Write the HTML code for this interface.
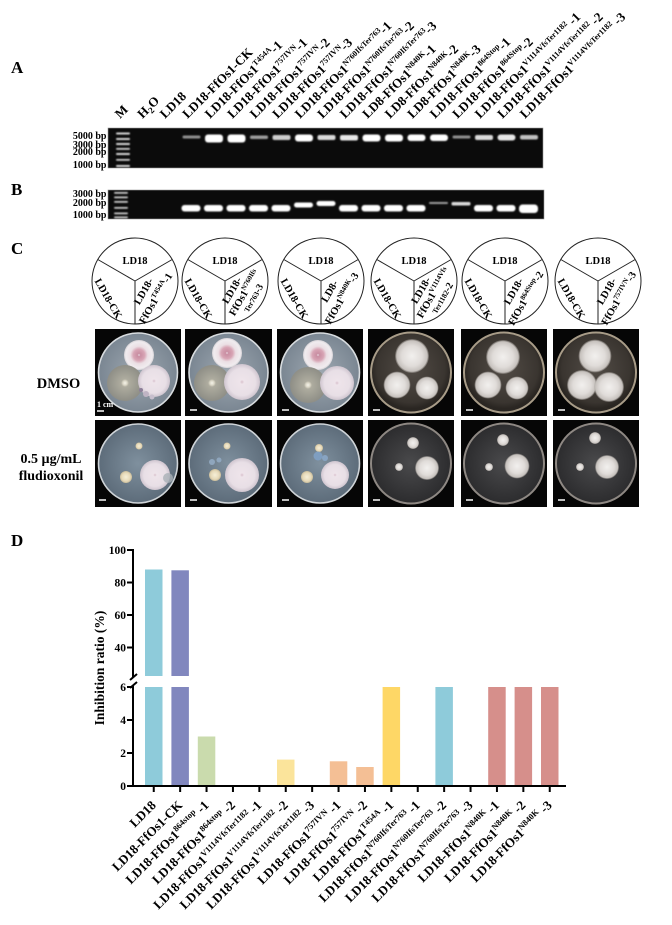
<!DOCTYPE html>
<html><head><meta charset="utf-8">
<style>
html,body{margin:0;padding:0;background:#fff;}
svg{display:block;}
text{font-family:"Liberation Serif","Times New Roman",serif;font-weight:bold;fill:#000;}
</style></head>
<body>
<svg width="672" height="925" viewBox="0 0 672 925" xmlns="http://www.w3.org/2000/svg">
<defs>
<filter id="bl" x="-30%" y="-100%" width="160%" height="300%"><feGaussianBlur stdDeviation="0.7"/></filter>
<radialGradient id="agarA" cx="50%" cy="50%" r="50%"><stop offset="0" stop-color="#9ea8b1"/><stop offset="1" stop-color="#7a8692"/></radialGradient>
<radialGradient id="agarB" cx="50%" cy="45%" r="50%"><stop offset="0" stop-color="#524c46"/><stop offset="0.85" stop-color="#3a3530"/><stop offset="1" stop-color="#2a2622"/></radialGradient>
<radialGradient id="agarC" cx="50%" cy="50%" r="50%"><stop offset="0" stop-color="#7f909e"/><stop offset="1" stop-color="#5d6c7a"/></radialGradient>
<radialGradient id="agarD" cx="50%" cy="50%" r="50%"><stop offset="0" stop-color="#4a4a4c"/><stop offset="1" stop-color="#2c2c2e"/></radialGradient>
<radialGradient id="pink"><stop offset="0" stop-color="#eadbe1"/><stop offset="0.1" stop-color="#c98ea2"/><stop offset="0.38" stop-color="#d8a5b5"/><stop offset="0.58" stop-color="#ebdfe4"/><stop offset="0.88" stop-color="#f0ecef"/><stop offset="1" stop-color="#d6d2d6"/></radialGradient>
<radialGradient id="gray"><stop offset="0" stop-color="#f5f3ea"/><stop offset="0.12" stop-color="#dcd8c8"/><stop offset="0.22" stop-color="#aeac9f"/><stop offset="1" stop-color="#8e8e86"/></radialGradient>
<radialGradient id="wpink"><stop offset="0" stop-color="#d8c0cc"/><stop offset="0.12" stop-color="#eee4ea"/><stop offset="0.75" stop-color="#e8dfe6"/><stop offset="1" stop-color="#cfc5cf"/></radialGradient>
<radialGradient id="fuzz"><stop offset="0" stop-color="#f2f0ee"/><stop offset="0.6" stop-color="#e0dcd9"/><stop offset="0.9" stop-color="#c6c1bd"/><stop offset="1" stop-color="#a8a39e" stop-opacity="0.3"/></radialGradient>
<radialGradient id="cream"><stop offset="0" stop-color="#f6efd8"/><stop offset="0.7" stop-color="#e6d9b8"/><stop offset="1" stop-color="#c8bb9a"/></radialGradient>
</defs>

<!-- Panel letters -->
<text x="11" y="73" font-size="17">A</text>
<text x="11" y="195" font-size="17">B</text>
<text x="11" y="254" font-size="17">C</text>
<text x="11" y="546" font-size="17">D</text>

<!-- Panel A lane labels -->
<g font-size="13">
<text transform="translate(120,119) rotate(-45)">M</text>
<text transform="translate(142.5,119) rotate(-45)">H<tspan font-size="9" dy="3">2</tspan><tspan dy="-3">O</tspan></text>
<text transform="translate(165,119) rotate(-45)">LD18</text>
<text transform="translate(187.5,119) rotate(-45)">LD18-FfOs1-CK</text>
<text transform="translate(210,119) rotate(-45)">LD18-FfOs1<tspan font-size="8" dy="-5">T454A</tspan><tspan dy="5">-1</tspan></text>
<text transform="translate(232.5,119) rotate(-45)">LD18-FfOs1<tspan font-size="8" dy="-5">757IVN</tspan><tspan dy="5">-1</tspan></text>
<text transform="translate(255,119) rotate(-45)">LD18-FfOs1<tspan font-size="8" dy="-5">757IVN</tspan><tspan dy="5">-2</tspan></text>
<text transform="translate(277.5,119) rotate(-45)">LD18-FfOs1<tspan font-size="8" dy="-5">757IVN</tspan><tspan dy="5">-3</tspan></text>
<text transform="translate(300,119) rotate(-45)">LD18-FfOs1<tspan font-size="8" dy="-5">N760IfsTer763</tspan><tspan dy="5">-1</tspan></text>
<text transform="translate(322.5,119) rotate(-45)">LD18-FfOs1<tspan font-size="8" dy="-5">N760IfsTer763</tspan><tspan dy="5">-2</tspan></text>
<text transform="translate(345,119) rotate(-45)">LD18-FfOs1<tspan font-size="8" dy="-5">N760IfsTer763</tspan><tspan dy="5">-3</tspan></text>
<text transform="translate(367.5,119) rotate(-45)">LD8-FfOs1<tspan font-size="8" dy="-5">N840K</tspan><tspan dy="5">-1</tspan></text>
<text transform="translate(390,119) rotate(-45)">LD8-FfOs1<tspan font-size="8" dy="-5">N840K</tspan><tspan dy="5">-2</tspan></text>
<text transform="translate(412.5,119) rotate(-45)">LD8-FfOs1<tspan font-size="8" dy="-5">N840K</tspan><tspan dy="5">-3</tspan></text>
<text transform="translate(435,119) rotate(-45)">LD18-FfOs1<tspan font-size="8" dy="-5">864Stop</tspan><tspan dy="5">-1</tspan></text>
<text transform="translate(457.5,119) rotate(-45)">LD18-FfOs1<tspan font-size="8" dy="-5">864Stop</tspan><tspan dy="5">-2</tspan></text>
<text transform="translate(480,119) rotate(-45)">LD18-FfOs1<tspan font-size="8" dy="-5">V1114VfsTer1182</tspan><tspan dy="5"> -1</tspan></text>
<text transform="translate(502.5,119) rotate(-45)">LD18-FfOs1<tspan font-size="8" dy="-5">V1114VfsTer1182</tspan><tspan dy="5"> -2</tspan></text>
<text transform="translate(525,119) rotate(-45)">LD18-FfOs1<tspan font-size="8" dy="-5">V1114VfsTer1182</tspan><tspan dy="5"> -3</tspan></text>
</g>

<!-- Gel A -->
<rect x="108" y="128" width="435" height="40" fill="#0b0b0b" stroke="#9a9a9a" stroke-width="0.6"/>
<g fill="#d8d8d8" filter="url(#bl)">
<rect x="116" y="132.5" width="14" height="2" rx="1"/>
<rect x="116" y="138" width="14" height="2" rx="1"/>
<rect x="116" y="143" width="14" height="2" rx="1"/>
<rect x="116" y="148" width="14" height="1.8" rx="1"/>
<rect x="116" y="153" width="14" height="2" rx="1"/>
<rect x="116" y="159" width="14" height="1.8" rx="1"/>
<rect x="116" y="165" width="14" height="2" rx="1"/>
</g>
<g font-size="10" text-anchor="end">
<text x="106.5" y="139">5000 bp</text>
<text x="106.5" y="148">3000 bp</text>
<text x="106.5" y="155">2000 bp</text>
<text x="106.5" y="168">1000 bp</text>
</g>
<g fill="#ffffff" filter="url(#bl)">
<rect x="182.5" y="135.5" width="18" height="3" rx="1.5" opacity="0.55"/>
<rect x="205" y="134.5" width="18" height="8" rx="3"/>
<rect x="227.5" y="134.5" width="18" height="8" rx="3"/>
<rect x="250" y="135.5" width="18" height="3.5" rx="1.5" opacity="0.6"/>
<rect x="272.5" y="135" width="18" height="5" rx="2" opacity="0.8"/>
<rect x="295" y="134.5" width="18" height="7" rx="3"/>
<rect x="317.5" y="135" width="18" height="5" rx="2" opacity="0.85"/>
<rect x="340" y="135" width="18" height="5.5" rx="2" opacity="0.9"/>
<rect x="362.5" y="134.5" width="18" height="7" rx="3"/>
<rect x="385" y="134.5" width="18" height="7" rx="3"/>
<rect x="407.5" y="134.5" width="18" height="6.5" rx="3"/>
<rect x="430" y="134.5" width="18" height="6.5" rx="3"/>
<rect x="452.5" y="135.5" width="18" height="3" rx="1.5" opacity="0.55"/>
<rect x="475" y="135" width="18" height="5" rx="2" opacity="0.85"/>
<rect x="497.5" y="134.5" width="18" height="6" rx="3" opacity="0.9"/>
<rect x="520" y="135" width="18" height="4.5" rx="2" opacity="0.75"/>
</g>

<!-- Gel B -->
<rect x="108" y="190" width="436" height="29" fill="#0b0b0b" stroke="#9a9a9a" stroke-width="0.6"/>
<g fill="#d0d0d0" filter="url(#bl)">
<rect x="114" y="192" width="14" height="1.8" rx="1"/>
<rect x="114" y="196.5" width="14" height="1.8" rx="1"/>
<rect x="114" y="201" width="14" height="1.8" rx="1"/>
<rect x="114" y="207" width="14" height="1.8" rx="1"/>
<rect x="114" y="212.5" width="14" height="1.8" rx="1"/>
<rect x="114" y="216.5" width="14" height="1.8" rx="1"/>
</g>
<g font-size="10" text-anchor="end">
<text x="106.5" y="197">3000 bp</text>
<text x="106.5" y="206">2000 bp</text>
<text x="106.5" y="218">1000 bp</text>
</g>
<g fill="#ffffff" filter="url(#bl)">
<rect x="181.5" y="205" width="19" height="6.5" rx="3"/>
<rect x="204" y="205" width="19" height="6.5" rx="3"/>
<rect x="226.5" y="205" width="19" height="6.5" rx="3"/>
<rect x="249" y="205" width="19" height="6.5" rx="3"/>
<rect x="271.5" y="205" width="19" height="6.5" rx="3"/>
<rect x="294" y="202.5" width="19" height="5" rx="2.5"/>
<rect x="316.5" y="201" width="19" height="5" rx="2.5"/>
<rect x="339" y="205" width="19" height="6.5" rx="3"/>
<rect x="361.5" y="205" width="19" height="6.5" rx="3"/>
<rect x="384" y="205" width="19" height="6.5" rx="3"/>
<rect x="406.5" y="205" width="19" height="6.5" rx="3"/>
<rect x="429" y="202" width="19" height="2" rx="1" opacity="0.6"/>
<rect x="451.5" y="202" width="19" height="3.5" rx="1.5" opacity="0.85"/>
<rect x="474" y="205" width="19" height="6.5" rx="3"/>
<rect x="496.5" y="205" width="19" height="6.5" rx="3"/>
<rect x="519" y="204.5" width="19" height="8.5" rx="3.5"/>
</g>

<!-- Panel C circles -->
<g stroke="#222" stroke-width="1" fill="none">
<circle cx="135" cy="281" r="43"/><path d="M135 281 L97.8 259.5 M135 281 L172.2 259.5 M135 281 L135 324"/>
<circle cx="225" cy="281" r="43"/><path d="M225 281 L187.8 259.5 M225 281 L262.2 259.5 M225 281 L225 324"/>
<circle cx="321" cy="281" r="43"/><path d="M321 281 L283.8 259.5 M321 281 L358.2 259.5 M321 281 L321 324"/>
<circle cx="414" cy="281" r="43"/><path d="M414 281 L376.8 259.5 M414 281 L451.2 259.5 M414 281 L414 324"/>
<circle cx="505" cy="281" r="43"/><path d="M505 281 L467.8 259.5 M505 281 L542.2 259.5 M505 281 L505 324"/>
<circle cx="598" cy="281" r="43"/><path d="M598 281 L560.8 259.5 M598 281 L635.2 259.5 M598 281 L598 324"/>
</g>
<g font-size="10.5" text-anchor="middle">
<text x="135" y="264">LD18</text>
<text x="225" y="264">LD18</text>
<text x="321" y="264">LD18</text>
<text x="414" y="264">LD18</text>
<text x="505" y="264">LD18</text>
<text x="598" y="264">LD18</text>
<text transform="translate(108.5,298.5) rotate(60)" y="3.5">LD18-CK</text>
<text transform="translate(198.5,298.5) rotate(60)" y="3.5">LD18-CK</text>
<text transform="translate(294.5,298.5) rotate(60)" y="3.5">LD18-CK</text>
<text transform="translate(387.5,298.5) rotate(60)" y="3.5">LD18-CK</text>
<text transform="translate(478.5,298.5) rotate(60)" y="3.5">LD18-CK</text>
<text transform="translate(571.5,298.5) rotate(60)" y="3.5">LD18-CK</text>
<!-- right sectors -->
<g transform="translate(150,295) rotate(-60)"><text y="-4">LD18-</text><text y="10">FfOs1<tspan font-size="7" dy="-4">T454A</tspan><tspan dy="4">-1</tspan></text></g>
<g transform="translate(240,295) rotate(-60)"><text y="-6">LD18-</text><text y="6" x="4">FfOs1<tspan font-size="7" dy="-4">N760Ifs</tspan></text><text y="16" x="4" font-size="7.5">Ter763<tspan font-size="10">-3</tspan></text></g>
<g transform="translate(336,295) rotate(-60)"><text y="-4">LD8-</text><text y="10">FfOs1<tspan font-size="7" dy="-4">N840K</tspan><tspan dy="4">-3</tspan></text></g>
<g transform="translate(429,295) rotate(-60)"><text y="-6">LD18-</text><text y="6" x="4">FfOs1<tspan font-size="7" dy="-4">V1114Vfs</tspan></text><text y="16" x="4" font-size="7.5">Ter1182<tspan font-size="10">-2</tspan></text></g>
<g transform="translate(520,295) rotate(-60)"><text y="-4">LD18-</text><text y="10">FfOs1<tspan font-size="7" dy="-4">864Stop</tspan><tspan dy="4">-2</tspan></text></g>
<g transform="translate(613,295) rotate(-60)"><text y="-4">LD18-</text><text y="10">FfOs1<tspan font-size="7" dy="-4">757IVN</tspan><tspan dy="4">-3</tspan></text></g>
</g>

<!-- Row labels -->
<text x="58.5" y="388" font-size="14.5" text-anchor="middle">DMSO</text>
<text x="51" y="463" font-size="14" text-anchor="middle">0.5 µg/mL</text>
<text x="51" y="480" font-size="14" text-anchor="middle">fludioxonil</text>

<!-- Plates row 1, 1-3 -->
<g>
<rect x="95" y="329" width="86" height="87" fill="#060606"/>
<circle cx="138" cy="372.5" r="39.5" fill="url(#agarA)" stroke="#d8dcdf" stroke-width="1.6"/>
<circle cx="139" cy="355" r="15" fill="url(#pink)"/>
<circle cx="125" cy="383" r="18" fill="url(#gray)"/>
<circle cx="154" cy="381" r="16" fill="url(#wpink)"/>
<circle cx="146" cy="394" r="3" fill="#bfb4c4"/><circle cx="152" cy="397" r="2.5" fill="#c7bfcd"/><circle cx="141" cy="390" r="2" fill="#8c7e98"/>
<text x="97" y="407" font-size="8" style="fill:#fff">1 cm</text>
<line x1="97" y1="411" x2="104" y2="411" stroke="#fff" stroke-width="1.5"/>

<rect x="185" y="329" width="87" height="87" fill="#060606"/>
<circle cx="228.5" cy="372.5" r="39.5" fill="url(#agarA)" stroke="#d8dcdf" stroke-width="1.6"/>
<circle cx="227" cy="353" r="15" fill="url(#pink)"/>
<circle cx="212" cy="383" r="18" fill="url(#gray)"/>
<circle cx="242" cy="382" r="18" fill="url(#wpink)"/>
<line x1="190" y1="410" x2="197" y2="410" stroke="#fff" stroke-width="1.5"/>

<rect x="277" y="329" width="86" height="87" fill="#060606"/>
<circle cx="320" cy="372.5" r="39.5" fill="url(#agarA)" stroke="#d8dcdf" stroke-width="1.6"/>
<circle cx="318" cy="355" r="15" fill="url(#pink)"/>
<circle cx="308" cy="385" r="18" fill="url(#gray)"/>
<circle cx="337" cy="383" r="17" fill="url(#wpink)"/>
<line x1="282" y1="410" x2="289" y2="410" stroke="#fff" stroke-width="1.5"/>
</g>

<!-- Plates row 1, 4-6 -->
<g>
<rect x="368" y="329" width="86" height="87" fill="#060606"/>
<circle cx="411" cy="372.5" r="40" fill="url(#agarB)" stroke="#a89c88" stroke-width="2"/>
<circle cx="412" cy="356" r="17" fill="url(#fuzz)"/>
<circle cx="397" cy="385" r="13.5" fill="url(#fuzz)"/>
<circle cx="427" cy="388" r="11.5" fill="url(#fuzz)"/>
<line x1="373" y1="410" x2="380" y2="410" stroke="#fff" stroke-width="1.5"/>

<rect x="461" y="329" width="86" height="87" fill="#060606"/>
<circle cx="504" cy="372.5" r="40" fill="url(#agarB)" stroke="#a89c88" stroke-width="2"/>
<circle cx="503" cy="357" r="17" fill="url(#fuzz)"/>
<circle cx="488" cy="385" r="13.5" fill="url(#fuzz)"/>
<circle cx="517" cy="388" r="11.5" fill="url(#fuzz)"/>
<line x1="466" y1="410" x2="473" y2="410" stroke="#fff" stroke-width="1.5"/>

<rect x="553" y="329" width="86" height="87" fill="#060606"/>
<circle cx="596" cy="372.5" r="40" fill="url(#agarB)" stroke="#a89c88" stroke-width="2"/>
<circle cx="595" cy="356" r="16.5" fill="url(#fuzz)"/>
<circle cx="582" cy="385" r="15" fill="url(#fuzz)"/>
<circle cx="609" cy="387" r="15" fill="url(#fuzz)"/>
<line x1="558" y1="410" x2="565" y2="410" stroke="#fff" stroke-width="1.5"/>
</g>

<!-- Plates row 2, 1-3 -->
<g>
<rect x="95" y="420" width="86" height="87" fill="#060606"/>
<circle cx="138" cy="463.5" r="39.5" fill="url(#agarC)" stroke="#cfd4d8" stroke-width="1.6"/>
<circle cx="139" cy="446" r="3.5" fill="url(#cream)"/>
<circle cx="126" cy="477" r="6" fill="url(#cream)"/>
<circle cx="155" cy="475" r="15" fill="url(#wpink)"/>
<circle cx="168" cy="478" r="5" fill="#a9b0b6" opacity="0.8"/>
<line x1="99" y1="500" x2="106" y2="500" stroke="#fff" stroke-width="1.5"/>

<rect x="185" y="420" width="87" height="87" fill="#060606"/>
<circle cx="228.5" cy="463.5" r="39.5" fill="url(#agarC)" stroke="#cfd4d8" stroke-width="1.6"/>
<circle cx="227" cy="446" r="3.5" fill="url(#cream)"/>
<circle cx="215" cy="475" r="6" fill="url(#cream)"/>
<circle cx="212" cy="462" r="3" fill="#8fa6bd"/><circle cx="219" cy="460" r="2.5" fill="#8fa6bd"/>
<circle cx="242" cy="475" r="17" fill="url(#wpink)"/>
<line x1="190" y1="500" x2="197" y2="500" stroke="#fff" stroke-width="1.5"/>

<rect x="277" y="420" width="86" height="87" fill="#060606"/>
<circle cx="320" cy="463.5" r="39.5" fill="url(#agarC)" stroke="#cfd4d8" stroke-width="1.6"/>
<circle cx="319" cy="448" r="4" fill="url(#cream)"/>
<circle cx="318" cy="456" r="4.5" fill="#7f9ec0"/><circle cx="325" cy="458" r="3" fill="#88a4c2"/>
<circle cx="307" cy="477" r="6" fill="url(#cream)"/>
<circle cx="335" cy="475" r="14" fill="url(#wpink)"/>
<line x1="282" y1="500" x2="289" y2="500" stroke="#fff" stroke-width="1.5"/>
</g>

<!-- Plates row 2, 4-6 -->
<g>
<rect x="368" y="420" width="86" height="87" fill="#060606"/>
<circle cx="411" cy="463.5" r="40" fill="url(#agarD)" stroke="#8e8883" stroke-width="2"/>
<circle cx="413" cy="443" r="6" fill="url(#fuzz)"/>
<circle cx="399" cy="467" r="4" fill="url(#fuzz)"/>
<circle cx="427" cy="468" r="12" fill="url(#fuzz)"/>
<line x1="373" y1="500" x2="380" y2="500" stroke="#fff" stroke-width="1.5"/>

<rect x="461" y="420" width="86" height="87" fill="#060606"/>
<circle cx="504" cy="463.5" r="40" fill="url(#agarD)" stroke="#8e8883" stroke-width="2"/>
<circle cx="503" cy="440" r="6" fill="url(#fuzz)"/>
<circle cx="489" cy="467" r="4" fill="url(#fuzz)"/>
<circle cx="517" cy="466" r="12.5" fill="url(#fuzz)"/>
<line x1="466" y1="500" x2="473" y2="500" stroke="#fff" stroke-width="1.5"/>

<rect x="553" y="420" width="86" height="87" fill="#060606"/>
<circle cx="596" cy="463.5" r="40" fill="url(#agarD)" stroke="#8e8883" stroke-width="2"/>
<circle cx="595" cy="438" r="6" fill="url(#fuzz)"/>
<circle cx="580" cy="467" r="4" fill="url(#fuzz)"/>
<circle cx="607" cy="467" r="12" fill="url(#fuzz)"/>
<line x1="558" y1="500" x2="565" y2="500" stroke="#fff" stroke-width="1.5"/>
</g>

<!-- Panel D chart -->
<!-- upper bars -->
<rect x="145" y="569.5" width="17.5" height="106.5" fill="#8ECBDA"/>
<rect x="171.4" y="570.3" width="17.5" height="105.7" fill="#8187BE"/>
<!-- lower bars -->
<rect x="145" y="687" width="17.5" height="99" fill="#8ECBDA"/>
<rect x="171.4" y="687" width="17.5" height="99" fill="#8187BE"/>
<rect x="197.8" y="736.5" width="17.5" height="49.5" fill="#CADBAD"/>
<rect x="277" y="759.6" width="17.5" height="26.4" fill="#FBE49B"/>
<rect x="329.8" y="761.3" width="17.5" height="24.7" fill="#F4BF95"/>
<rect x="356.2" y="767" width="17.5" height="19" fill="#F4BF95"/>
<rect x="382.6" y="687" width="17.5" height="99" fill="#FED766"/>
<rect x="435.4" y="687" width="17.5" height="99" fill="#8ECBDA"/>
<rect x="488.2" y="687" width="17.5" height="99" fill="#D68F8B"/>
<rect x="514.6" y="687" width="17.5" height="99" fill="#D68F8B"/>
<rect x="541" y="687" width="17.5" height="99" fill="#D68F8B"/>

<!-- axes -->
<g stroke="#000" stroke-width="2" fill="none">
<line x1="133" y1="549" x2="133" y2="677"/>
<line x1="133" y1="685" x2="133" y2="787"/>
<line x1="130" y1="680" x2="137" y2="674"/>
<line x1="130" y1="688" x2="137" y2="682"/>
<line x1="127" y1="550" x2="133" y2="550"/>
<line x1="127" y1="582.5" x2="133" y2="582.5"/>
<line x1="127" y1="615" x2="133" y2="615"/>
<line x1="127" y1="647.5" x2="133" y2="647.5"/>
<line x1="127" y1="687" x2="133" y2="687"/>
<line x1="127" y1="720" x2="133" y2="720"/>
<line x1="127" y1="753" x2="133" y2="753"/>
<line x1="127" y1="786" x2="133" y2="786"/>
<line x1="132" y1="786" x2="566" y2="786"/>
<path d="M153.75 786v6 M180.15 786v6 M206.55 786v6 M232.95 786v6 M259.35 786v6 M285.75 786v6 M312.15 786v6 M338.55 786v6 M364.95 786v6 M391.35 786v6 M417.75 786v6 M444.15 786v6 M470.55 786v6 M496.95 786v6 M523.35 786v6 M549.75 786v6"/>
</g>
<g font-size="11.5" text-anchor="end">
<text x="126" y="554">100</text>
<text x="126" y="586.5">80</text>
<text x="126" y="619">60</text>
<text x="126" y="651.5">40</text>
<text x="126" y="691">6</text>
<text x="126" y="724">4</text>
<text x="126" y="757">2</text>
<text x="126" y="790">0</text>
</g>
<text transform="translate(104,668) rotate(-90)" font-size="13.5" text-anchor="middle">Inhibition ratio (%)</text>

<!-- x labels -->
<g font-size="13" text-anchor="end">
<text transform="translate(156.75,806) rotate(-45)">LD18</text>
<text transform="translate(183.15,806) rotate(-45)">LD18-FfOs1-CK</text>
<text transform="translate(209.55,806) rotate(-45)">LD18-FfOs1<tspan font-size="8.5" dy="-5">864stop</tspan><tspan dy="5"> -1</tspan></text>
<text transform="translate(235.95,806) rotate(-45)">LD18-FfOs1<tspan font-size="8.5" dy="-5">864stop</tspan><tspan dy="5"> -2</tspan></text>
<text transform="translate(262.35,806) rotate(-45)">LD18-FfOs1<tspan font-size="8.5" dy="-5">V1114VfsTer1182</tspan><tspan dy="5"> -1</tspan></text>
<text transform="translate(288.75,806) rotate(-45)">LD18-FfOs1<tspan font-size="8.5" dy="-5">V1114VfsTer1182</tspan><tspan dy="5"> -2</tspan></text>
<text transform="translate(315.15,806) rotate(-45)">LD18-FfOs1<tspan font-size="8.5" dy="-5">V1114VfsTer1182</tspan><tspan dy="5"> -3</tspan></text>
<text transform="translate(341.55,806) rotate(-45)">LD18-FfOs1<tspan font-size="8.5" dy="-5">757IVN</tspan><tspan dy="5"> -1</tspan></text>
<text transform="translate(367.95,806) rotate(-45)">LD18-FfOs1<tspan font-size="8.5" dy="-5">757IVN</tspan><tspan dy="5"> -2</tspan></text>
<text transform="translate(394.35,806) rotate(-45)">LD18-FfOs1<tspan font-size="8.5" dy="-5">T454A</tspan><tspan dy="5"> -1</tspan></text>
<text transform="translate(420.75,806) rotate(-45)">LD18-FfOs1<tspan font-size="8.5" dy="-5">N760IfsTer763</tspan><tspan dy="5"> -1</tspan></text>
<text transform="translate(447.15,806) rotate(-45)">LD18-FfOs1<tspan font-size="8.5" dy="-5">N760IfsTer763</tspan><tspan dy="5"> -2</tspan></text>
<text transform="translate(473.55,806) rotate(-45)">LD18-FfOs1<tspan font-size="8.5" dy="-5">N760IfsTer763</tspan><tspan dy="5"> -3</tspan></text>
<text transform="translate(499.95,806) rotate(-45)">LD18-FfOs1<tspan font-size="8.5" dy="-5">N840K</tspan><tspan dy="5"> -1</tspan></text>
<text transform="translate(526.35,806) rotate(-45)">LD18-FfOs1<tspan font-size="8.5" dy="-5">N840K</tspan><tspan dy="5"> -2</tspan></text>
<text transform="translate(552.75,806) rotate(-45)">LD18-FfOs1<tspan font-size="8.5" dy="-5">N840K</tspan><tspan dy="5"> -3</tspan></text>
</g>
</svg>
</body></html>
